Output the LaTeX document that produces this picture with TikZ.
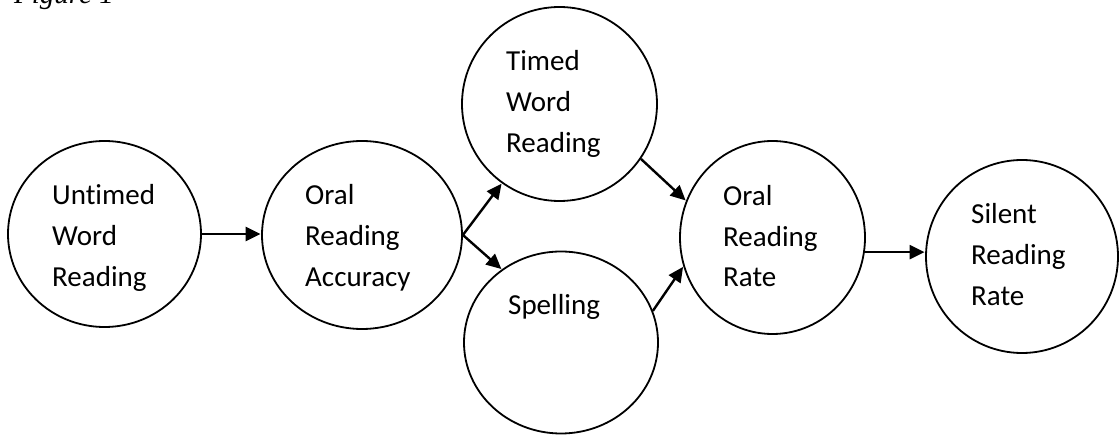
\documentclass[tikz,border=0pt]{standalone}
\usepackage{fontspec}
\setmainfont{Carlito}[Ligatures=NoCommon]
\newfontfamily\capfont{Liberation Serif}
\usetikzlibrary{shapes.geometric,arrows.meta}
\tikzset{
  bubble/.style={draw, ellipse, line width=1.8pt, inner sep=0pt},
  lbl/.style={anchor=base west, inner sep=0pt, font=\fontsize{29}{41}\selectfont},
  link/.style={line width=2.4pt, -{Triangle[length=15pt,width=14pt]}, shorten >=0.5pt}
}
\begin{document}
\begin{tikzpicture}[x=1pt,y=-1pt]
\clip (0,0) rectangle (1120,435);
\useasboundingbox (0,0) rectangle (1120,435);
\node[anchor=base west, inner sep=0pt, font=\capfont\itshape\fontsize{29}{34}\selectfont] (cap) at (14,4) {Figure 1};

\node[bubble, minimum width=193pt, minimum height=186pt] (c1) at (104.5,234) {};
\node[bubble, minimum width=200pt, minimum height=188pt] (c2) at (362,235) {};
\node[bubble, minimum width=195pt, minimum height=194pt] (c3) at (559.5,104) {};
\node[bubble, minimum width=194pt, minimum height=182pt] (c4) at (561,342.5) {};
\node[bubble, minimum width=185pt, minimum height=193pt] (c5) at (772.5,237.5) {};
\node[bubble, minimum width=192pt, minimum height=193pt] (c6) at (1022,256.5) {};

\node[lbl] (t1a) at (52,205) {Untimed};
\node[lbl] (t1b) at (52,246) {Word};
\node[lbl] (t1c) at (52,287) {Reading};

\node[lbl] (t2a) at (305,205) {Oral};
\node[lbl] (t2b) at (305,246) {Reading};
\node[lbl] (t2c) at (305,287) {Accuracy};

\node[lbl] (t3a) at (506,71) {Timed};
\node[lbl] (t3b) at (506,112) {Word};
\node[lbl] (t3c) at (506,153) {Reading};

\node[lbl] (t4a) at (508,315) {Spelling};

\node[lbl] (t5a) at (723,206) {Oral};
\node[lbl] (t5b) at (723,247) {Reading};
\node[lbl] (t5c) at (723,287) {Rate};

\node[lbl] (t6a) at (971,224) {Silent};
\node[lbl] (t6b) at (971,265) {Reading};
\node[lbl] (t6c) at (971,306) {Rate};

\draw[link] (c1.east) -- (c1.east -| c2.west);
\draw[link] (c2.east) -- (c3.234);
\draw[link] (c2.east) -- (c4.129);
\draw[link] (c3.-34) -- (c5.157);
\draw[link] (c4.19) -- (c5.198);
\draw[link] (c5.-9) -- (c5.-9 -| c6.west);
\end{tikzpicture}
\end{document}
